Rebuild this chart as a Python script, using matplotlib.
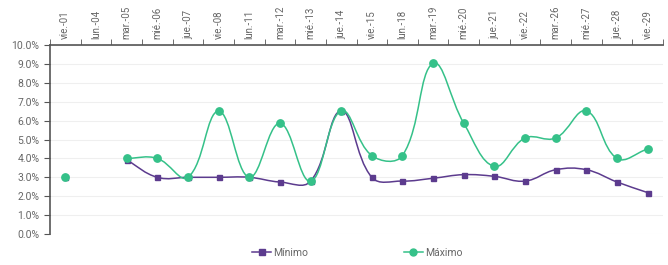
import numpy as np
import matplotlib.pyplot as plt
from matplotlib.path import Path
from matplotlib.patches import PathPatch
from matplotlib.lines import Line2D
from matplotlib.ticker import FuncFormatter

plt.rcParams['font.family'] = ['Roboto', 'DejaVu Sans']

dias = ["vie.-01", "lun.-04", "mar.-05", "mié.-06", "jue.-07", "vie.-08", "lun.-11",
        "mar.-12", "mié.-13", "jue.-14", "vie.-15", "lun.-18", "mar.-19", "mié.-20",
        "jue.-21", "vie.-22", "mar.-26", "mié.-27", "jue.-28", "vie.-29"]
minimo = [3.0, np.nan, 3.92, 3.0, 3.0, 3.0, 3.0, 2.75, 2.79, 6.52, 3.0, 2.8, 2.95,
          3.14, 3.05, 2.8, 3.4, 3.4, 2.75, 2.19]
maximo = [3.0, np.nan, 4.0, 4.0, 3.0, 6.5, 3.0, 5.86, 2.79, 6.52, 4.15, 4.15, 9.03,
          5.86, 3.58, 5.08, 5.08, 6.51, 4.0, 4.5]

morado = "#5c3b8e"
verde = "#35c189"
gris = "#666666"

fig = plt.figure(figsize=(6.68, 2.65), dpi=100)
ax = fig.add_axes([50 / 668, 1 - 234 / 265, 613 / 668, 189 / 265])

PX, PY = 30.65, 18.9  # pixels per category / per 1 %


def curva(ax, ys, color, tension=0.4):
    # spline like chart.js, broken at gaps
    xs = np.arange(len(ys))
    tramos, actual = [], []
    for x, y in zip(xs, ys):
        if np.isnan(y):
            if actual:
                tramos.append(actual)
            actual = []
        else:
            actual.append((x * PX, y * PY))
    if actual:
        tramos.append(actual)
    for pts in tramos:
        if len(pts) < 2:
            continue
        pts = np.array(pts)
        n = len(pts)
        cin, cout = [], []
        for i in range(n):
            p0 = pts[max(i - 1, 0)]
            p1 = pts[i]
            p2 = pts[min(i + 1, n - 1)]
            d01 = np.hypot(*(p1 - p0))
            d12 = np.hypot(*(p2 - p1))
            s = d01 + d12
            fa = d01 / s if s else 0
            fb = d12 / s if s else 0
            cin.append(p1 - tension * fa * (p2 - p0))
            cout.append(p1 + tension * fb * (p2 - p0))
        verts = [pts[0]]
        codes = [Path.MOVETO]
        for i in range(n - 1):
            verts += [cout[i], cin[i + 1], pts[i + 1]]
            codes += [Path.CURVE4] * 3
        verts = np.array(verts) / np.array([PX, PY])
        ax.add_patch(PathPatch(Path(verts, codes), fill=False, edgecolor=color, lw=1.1, zorder=2))


curva(ax, minimo, morado)
curva(ax, maximo, verde)
x = np.arange(len(dias))
ax.plot(x, minimo, "s", color=morado, ms=3.6, zorder=3)
ax.plot(x, maximo, "o", color=verde, ms=5.3, zorder=4)

ax.set_xlim(-0.5, len(dias) - 0.5)
ax.set_ylim(0, 10)
ax.set_yticks(np.arange(0, 11, 1))
ax.yaxis.set_major_formatter(FuncFormatter(lambda v, p: f"{v:.1f}%"))
ax.grid(axis="y", color="#efefef", lw=0.8)
ax.set_axisbelow(True)

ax.xaxis.tick_top()
ax.set_xticks(x)
ax.set_xticklabels(dias, rotation=90, fontsize=7, color=gris)
ax.set_xticks(np.arange(-0.5, len(dias)), minor=True)
ax.tick_params(axis="x", which="major", length=0, pad=4)
ax.tick_params(axis="x", which="minor", length=4, color="#555555", top=True, bottom=False)
ax.tick_params(axis="y", length=4, color="#555555", labelsize=7.5, labelcolor=gris)

for s in ["right", "bottom"]:
    ax.spines[s].set_visible(False)
for s in ["left", "top"]:
    ax.spines[s].set_color("#555555")
    ax.spines[s].set_linewidth(1.2)

h1 = Line2D([], [], color=morado, marker="s", ms=4, lw=1.1)
h2 = Line2D([], [], color=verde, marker="o", ms=5, lw=1.1)
fig.legend([h1, h2], ["Mínimo", "Máximo"], loc="center", bbox_to_anchor=(0.535, 0.045),
           ncol=2, frameon=False, fontsize=7.5, labelcolor=gris, handlelength=1.8,
           handletextpad=0.2, columnspacing=9.2)

fig.savefig("out.png", dpi=100)
